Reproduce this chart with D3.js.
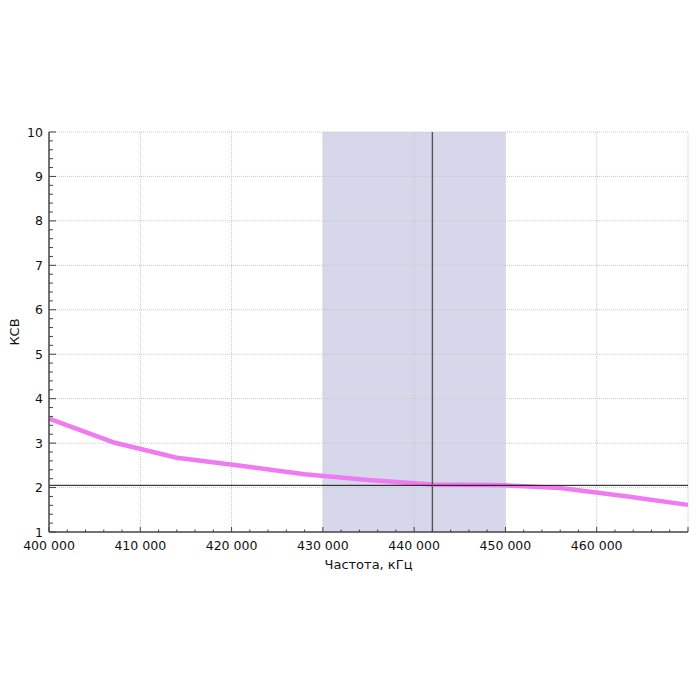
<!DOCTYPE html>
<html>
<head>
<meta charset="utf-8">
<script src="https://cdn.jsdelivr.net/npm/d3@7"></script>
<style>
  html, body { margin: 0; padding: 0; background: #fff; }
  svg { display: block; font-family: "DejaVu Sans", Verdana, sans-serif; }
</style>
</head>
<body>
<svg id="chart" width="700" height="700"></svg>
<script>
// Data
const freqs = [400000, 407000, 414000, 421000, 428000, 435000, 442000, 449000, 456000, 463000, 470000];
const vswr  = [3.55, 3.02, 2.67, 2.49, 2.30, 2.17, 2.07, 2.06, 1.99, 1.81, 1.61];
const bandRange = [430000, 450000];
const markerFreq = 442000;
const markerLevel = 2.05;
const xTicks = [400000, 410000, 420000, 430000, 440000, 450000, 460000];
const yTicks = [1, 2, 3, 4, 5, 6, 7, 8, 9, 10];
const xLabel = "Частота, кГц";
const yLabel = "КСВ";

const margin = {left: 49, top: 132, right: 12, bottom: 168};
const W = 700, H = 700;
const iw = W - margin.left - margin.right; // 639
const ih = H - margin.top - margin.bottom; // 400

const svg = d3.select("#chart");
const g = svg.append("g").attr("transform", `translate(${margin.left},${margin.top})`);

const x = d3.scaleLinear().domain([400000, 470000]).range([0, iw]);
const y = d3.scaleLinear().domain([1, 10]).range([ih, 0]);

const fmt = v => d3.format(",")(v).replace(/,/g, " ");

// shaded band
g.append("rect")
  .attr("x", x(bandRange[0])).attr("y", 0)
  .attr("width", x(bandRange[1]) - x(bandRange[0])).attr("height", ih)
  .attr("fill", "#d6d7ea");

// grid
const gridColor = "#c8c8c8";
g.append("g").selectAll("line").data(xTicks.slice(1).concat([470000])).join("line")
  .attr("x1", d => x(d)).attr("x2", d => x(d)).attr("y1", 0).attr("y2", ih)
  .attr("stroke", gridColor).attr("stroke-width", 1).attr("stroke-dasharray", "1,1");
g.append("g").selectAll("line").data(yTicks.slice(1)).join("line")
  .attr("x1", 0).attr("x2", iw).attr("y1", d => y(d)).attr("y2", d => y(d))
  .attr("stroke", gridColor).attr("stroke-width", 1).attr("stroke-dasharray", "1,1");

// curve
const line = d3.line().x(d => x(d[0])).y(d => y(d[1]));
g.append("path")
  .datum(freqs.map((f, i) => [f, vswr[i]]))
  .attr("d", line)
  .attr("fill", "none")
  .attr("stroke", "#f07af0")
  .attr("stroke-width", 4.5)
  .attr("stroke-linejoin", "round");

// marker lines
g.append("line")
  .attr("x1", 0).attr("x2", iw).attr("y1", y(markerLevel)).attr("y2", y(markerLevel))
  .attr("stroke", "#111").attr("stroke-width", 1);
g.append("line")
  .attr("x1", x(markerFreq)).attr("x2", x(markerFreq)).attr("y1", 0).attr("y2", ih)
  .attr("stroke", "#555").attr("stroke-width", 1.4);

// axes
const axisColor = "#444";
const xMinor = d3.range(400000, 470001, 2000);
const yMinor = d3.range(1, 10.001, 0.2);

const xa = g.append("g").attr("transform", `translate(0,${ih})`);
xa.append("line").attr("x1", 0).attr("x2", iw).attr("stroke", axisColor).attr("stroke-width", 1.5);
xa.selectAll("line.minor").data(xMinor).join("line").attr("class", "minor")
  .attr("x1", d => x(d)).attr("x2", d => x(d))
  .attr("y1", 0).attr("y2", d => (Math.round(d) % 10000 === 0) ? -5 : -2.5)
  .attr("stroke", axisColor).attr("stroke-width", 1);
xa.selectAll("text").data(xTicks).join("text")
  .attr("x", d => x(d)).attr("y", 18)
  .attr("text-anchor", "middle").attr("font-size", 12.5).attr("fill", "#111")
  .text(fmt);

const ya = g.append("g");
ya.append("line").attr("y1", 0).attr("y2", ih).attr("stroke", axisColor).attr("stroke-width", 1.5);
ya.selectAll("line.minor").data(yMinor).join("line").attr("class", "minor")
  .attr("y1", d => y(d)).attr("y2", d => y(d))
  .attr("x1", 0).attr("x2", d => (Math.abs(d - Math.round(d)) < 1e-6) ? 7 : 4)
  .attr("stroke", axisColor).attr("stroke-width", 1);
ya.selectAll("text").data(yTicks).join("text")
  .attr("x", -6).attr("y", d => y(d)).attr("dy", "0.36em")
  .attr("text-anchor", "end").attr("font-size", 12.5).attr("fill", "#111")
  .text(d => d);

// axis titles
svg.append("text")
  .attr("x", margin.left + iw / 2).attr("y", 569)
  .attr("text-anchor", "middle").attr("font-size", 13).attr("fill", "#111")
  .text(xLabel);
svg.append("text")
  .attr("transform", `translate(19,${margin.top + ih / 2}) rotate(-90)`)
  .attr("text-anchor", "middle").attr("font-size", 13).attr("fill", "#111")
  .text(yLabel);
</script>
</body>
</html>
